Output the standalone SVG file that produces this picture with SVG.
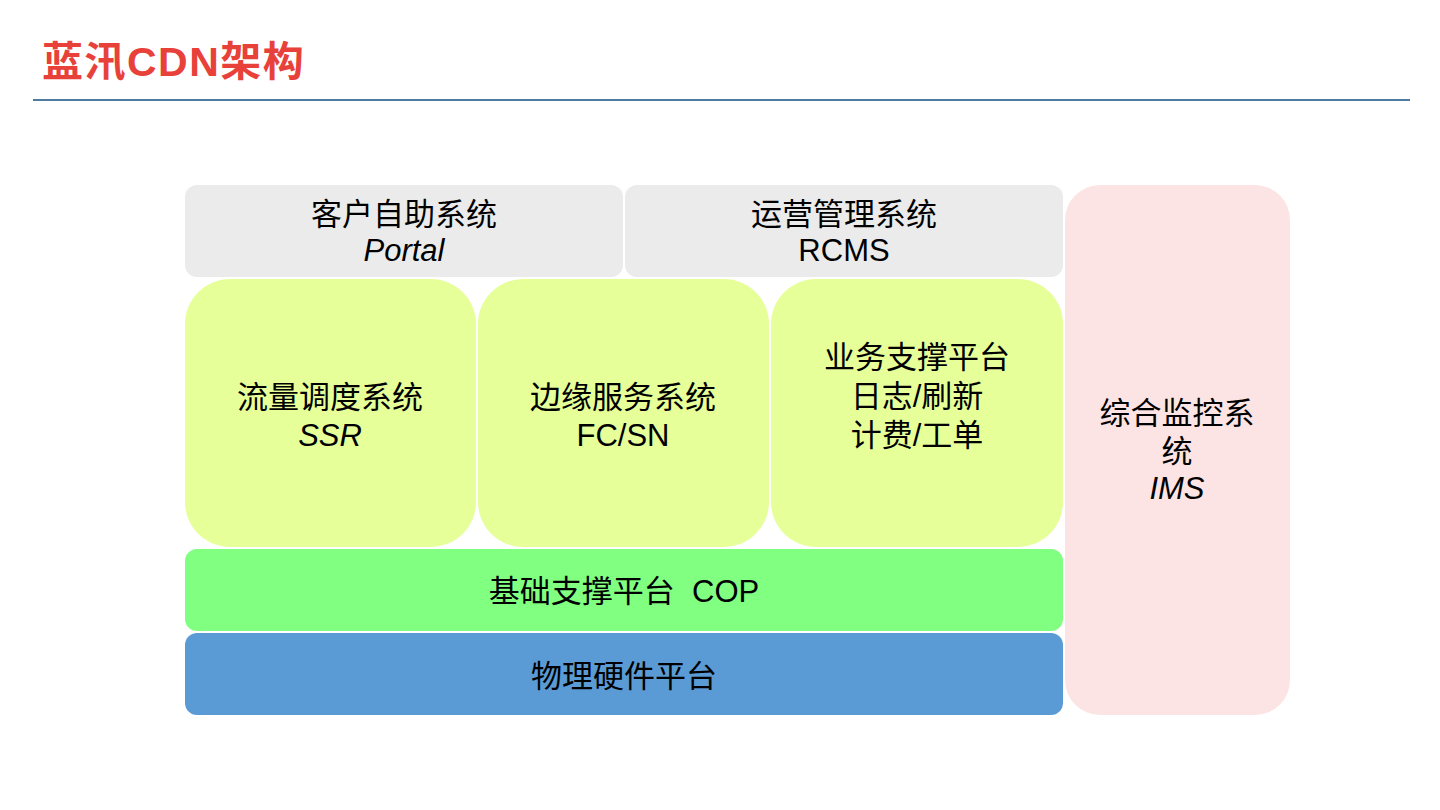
<svg xmlns="http://www.w3.org/2000/svg" width="1440" height="810" viewBox="0 0 1440 810">
<style>
.t{font-family:"Liberation Sans","Noto Sans CJK SC",sans-serif;font-size:31px;fill:#000;text-anchor:middle}
.i{font-style:italic}
</style>
<rect width="1440" height="810" fill="#fff"/>
<g id="title">
<text x="42" y="76" font-family="Liberation Sans,Noto Sans CJK SC,sans-serif" font-weight="bold" font-size="41" letter-spacing="1.5" fill="#E8413A">蓝汛CDN架构</text>
<line x1="33" y1="100" x2="1410" y2="100" stroke="#4F7BA0" stroke-width="2"/>
</g>
<g id="portal">
<rect x="185" y="185" width="438" height="92" rx="12" fill="#EBEBEB"/>
<text class="t" x="404" y="225">客户自助系统</text>
<text class="t i" x="404" y="261">Portal</text>
</g>
<g id="rcms">
<rect x="625" y="185" width="438" height="92" rx="12" fill="#EBEBEB"/>
<text class="t" x="844" y="225">运营管理系统</text>
<text class="t" x="844" y="261">RCMS</text>
</g>
<g id="ims">
<rect x="1065" y="185" width="225" height="530" rx="35" fill="#FDE4E4"/>
<text class="t" x="1177" y="424">综合监控系</text>
<text class="t" x="1177" y="462">统</text>
<text class="t i" x="1177" y="499">IMS</text>
</g>
<g id="ssr">
<rect x="185" y="279" width="291" height="268" rx="45" fill="#E6FF99"/>
<text class="t" x="330" y="408">流量调度系统</text>
<text class="t i" x="330" y="446">SSR</text>
</g>
<g id="fcsn">
<rect x="478" y="279" width="291" height="268" rx="45" fill="#E6FF99"/>
<text class="t" x="623" y="408">边缘服务系统</text>
<text class="t" x="623" y="446">FC/SN</text>
</g>
<g id="bsp">
<rect x="771" y="279" width="292" height="268" rx="45" fill="#E6FF99"/>
<text class="t" x="917" y="368">业务支撑平台</text>
<text class="t" x="917" y="407">日志/刷新</text>
<text class="t" x="917" y="446">计费/工单</text>
</g>
<g id="cop">
<rect x="185" y="549" width="878" height="82" rx="12" fill="#80FF80"/>
<text class="t" x="624" y="602" xml:space="preserve">基础支撑平台  COP</text>
</g>
<g id="hw">
<rect x="185" y="633" width="878" height="82" rx="12" fill="#5B9BD5"/>
<text class="t" x="624" y="687">物理硬件平台</text>
</g>
<g id="connectors"></g>
</svg>
